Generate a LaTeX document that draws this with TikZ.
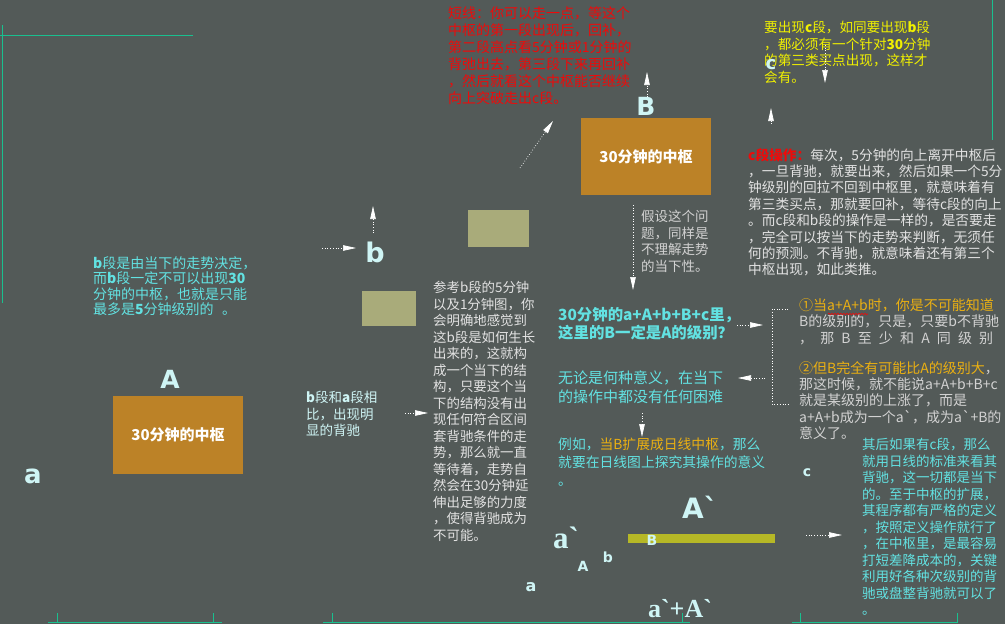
\documentclass[tikz,border=0pt]{standalone}
\usepackage{fontspec}
\setmainfont{Noto Sans CJK SC}[Ligatures=TeXOff]
\newfontfamily\lab{DejaVu Sans}[Ligatures=TeXOff]
\newfontfamily\serifb{Liberation Serif}[Ligatures=TeXOff]
\usetikzlibrary{arrows.meta,decorations.pathmorphing}
\definecolor{bg}{HTML}{535A58}
\definecolor{tealline}{HTML}{19C08F}
\definecolor{redt}{HTML}{EE0A0A}
\definecolor{yel}{HTML}{F0F000}
\definecolor{cyant}{HTML}{62E2E2}
\definecolor{labc}{HTML}{CFF5F5}
\definecolor{lgray}{HTML}{E2E2E2}
\definecolor{mgray}{HTML}{D2D2D2}
\definecolor{gold}{HTML}{EBB012}
\definecolor{orangebox}{HTML}{BC8227}
\definecolor{olivebox}{HTML}{A9AB7A}
\definecolor{olivebar}{HTML}{B6B826}
\newcommand{\myfs}[2]{\fontsize{#1}{#2}\selectfont}
\begin{document}
\begin{tikzpicture}[x=1pt,y=-1pt,
  txt/.style={anchor=north west, inner sep=0pt, align=left},
  lbl/.style={inner sep=0pt, text=labc, anchor=base},
  obox/.style={fill=orangebox, inner sep=0pt, text=white, font=\bfseries\myfs{15}{15}},
  olbox/.style={fill=olivebox, inner sep=0pt},
  arr/.style={draw=white, dotted, line width=0.7pt, -{Triangle[length=13pt,width=5.5pt,fill=white]}},
  tl/.style={draw=tealline, line width=0.9pt}]
\useasboundingbox (0,0) rectangle (1005,624);
\fill[bg] (0,0) rectangle (1005,624);

% teal frame lines
\draw[tl] (0,35) -- (193,35);
\draw[tl] (2.5,25) -- (2.5,303);
\draw[tl] (992,0) -- (992,140);
\draw[tl] (48,622.5) -- (222,622.5);
\draw[tl] (57,613) -- (57,622.5);
\draw[tl] (213,613) -- (213,622.5);
\draw[tl] (323,622.5) -- (690,622.5);
\draw[tl] (332,613) -- (332,622.5);
\draw[tl] (682,613) -- (682,622.5);
\draw[tl] (792,622.5) -- (957,622.5);
\draw[tl] (800,613) -- (800,622.5);
\draw[tl] (957,613) -- (957,622.5);

% boxes
\node[obox, minimum width=130, minimum height=77] (zsB) at (646,156.5) {30分钟的中枢};
\node[obox, minimum width=130, minimum height=78] (zsA) at (178,434.5) {30分钟的中枢};
\node[olbox, minimum width=61, minimum height=37] (ol1) at (498.5,228.5) {};
\node[olbox, minimum width=54, minimum height=35] (ol2) at (389,308.5) {};
\node[fill=olivebar, inner sep=0pt, minimum width=147, minimum height=9] (bar) at (701.5,538.5) {};

% red short-line text
\node[txt, text=redt, font=\myfs{14}{17}] (short) at (448,6) {短线：你可以走一点，等这个\\中枢的第一段出现后，回补，\\第二段高点看5分钟或1分钟的\\背弛出去，第三段下来再回补\\，然后就看这个中枢能否继续\\向上突破走出c段。};

% yellow text
\node[txt, text=yel, font=\myfs{13.6}{16.6}] (yeltext) at (764,21) {要出现\textbf{c}段，如同要出现\textbf{b}段\\，都必须有一个针对\textbf{30}分钟\\的第三类买点出现，这样才\\会有。};

% c segment operation text
\node[txt, text=lgray, font=\myfs{13.7}{16.4}] (cop) at (748,148) {\textcolor{redt}{\textbf{c段操作：}}每次，5分钟的向上离开中枢后\\，一旦背驰，就要出来，然后如果一个5分\\钟级别的回拉不回到中枢里，就意味着有\\第三类买点，那就要回补，等待c段的向上\\。而c段和b段的操作是一样的，是否要走\\，完全可以按当下的走势来判断，无须任\\何的预测。不背驰，就意味着还有第三个\\中枢出现，如此类推。};

% left cyan text
\node[txt, text=cyant, font=\myfs{14}{15.6}] (bseg) at (93,256) {\textbf{b}段是由当下的走势决定，\\而\textbf{b}段一定不可以出现\textbf{30}\\分钟的中枢，也就是只能\\最多是\textbf{5}分钟级别的\hspace{0.6em}。};

% b vs a text
\node[txt, text=labc, font=\myfs{13.5}{16.5}] (bvsa) at (306,391) {\textbf{b}段和\textbf{a}段相\\比，出现明\\显的背驰};

% gray block
\node[txt, text=lgray, font=\myfs{13.4}{16.5}] (ref) at (433,281) {参考b段的5分钟\\以及1分钟图，你\\会明确地感觉到\\这b段是如何生长\\出来的，这就构\\成一个当下的结\\构，只要这个当\\下的结构没有出\\现任何符合区间\\套背驰条件的走\\势，那么就一直\\等待着，走势自\\然会在30分钟延\\伸出足够的力度\\，使得背驰成为\\不可能。};

% assume text
\node[txt, text=mgray, font=\myfs{13.5}{16.5}] (assume) at (641,210) {假设这个问\\题，同样是\\不理解走势\\的当下性。};

% cyan question
\node[txt, text=cyant, font=\bfseries\myfs{15.4}{18}] (q) at (558,307) {30分钟的a+A+b+B+c里，\\这里的B一定是A的级别？};
\node[txt, text=cyant, font=\myfs{15}{19}] (anyway) at (558,370.5) {无论是何种意义，在当下\\的操作中都没有任何困难};
\node[txt, text=cyant, font=\myfs{13.8}{18}] (eg) at (558,438) {例如，\textcolor{gold}{当B扩展成日线中枢}，那么\\就要在日线图上探究其操作的意义\\。};

% right block
\node[txt, text=mgray, font=\myfs{14}{16.8}] (p1) at (799,298) {\textcolor{gold}{①当a+A+b时，你是不可能知道}\\B的级别的，只是，只要b不背驰\\\hbox to 194pt{，\hfill 那\hfill B\hfill 至\hfill 少\hfill 和\hfill A\hfill 同\hfill 级\hfill 别}};
\node[txt, text=mgray, font=\myfs{14}{16.3}] (p2) at (799,361) {\textcolor{gold}{②但B完全有可能比A的级别大}，\\那这时候，就不能说a+A+b+B+c\\就是某级别的上涨了，而是\\a+A+b成为一个a`，成为a`+B的\\意义了。};
\coordinate (wu1) at (828,314);
\coordinate (wu2) at (868,314);
\draw[redt, line width=0.6pt, decorate, decoration={snake, amplitude=0.8pt, segment length=3pt}] (wu1) -- (wu2);

% bottom right cyan
\node[txt, text=cyant, font=\myfs{13.5}{16.5}] (later) at (862,438) {其后如果有c段，那么\\就用日线的标准来看其\\背驰，这一切都是当下\\的。至于中枢的扩展，\\其程序都有严格的定义\\，按照定义操作就行了\\，在中枢里，是最容易\\打短差降成本的，关键\\利用好各种次级别的背\\驰或盘整背驰就可以了\\。};

% labels
\node[lbl, font=\lab\bfseries\myfs{25}{25}] (Bl) at (646,115) {B};
\node[lbl, font=\lab\bfseries\myfs{27}{27}] (bl) at (375,262) {b};
\node[lbl, font=\lab\bfseries\myfs{25}{25}] (Al) at (170,388) {A};
\node[lbl, font=\lab\bfseries\myfs{26}{26}] (al) at (33,483) {a};
\node[lbl, font=\lab\bfseries\myfs{18}{18}] (cl) at (771,69) {c};
\node[lbl, font=\lab\bfseries\myfs{14}{14}] (cl2) at (807,476) {c};
\node[lbl, font=\lab\bfseries\myfs{28}{28}] (Apl) at (700,518) {A`};
\node[lbl, font=\serifb\bfseries\myfs{31}{31}] (apl) at (566,548) {a`};
\node[lbl, font=\lab\bfseries\myfs{14}{14}] (As) at (583,571) {A};
\node[lbl, font=\lab\bfseries\myfs{14}{14}] (bs) at (608,562) {b};
\node[lbl, font=\lab\bfseries\myfs{16}{16}] (as) at (531,591) {a};
\node[lbl, font=\lab\bfseries\myfs{14}{14}] (Bs) at (652,545) {B};
\node[lbl, font=\serifb\bfseries\myfs{26}{26}] (sum) at (680,617) {a`+A`};

% arrow anchor coordinates
\coordinate (a1s) at (647,97);   \coordinate (a1e) at (647,72);
\coordinate (a2s) at (520,168);  \coordinate (a2e) at (553,121);
\coordinate (a3s) at (825,45);   \coordinate (a3e) at (825,83);
\coordinate (a4s) at (771,124);  \coordinate (a4e) at (771,108);
\coordinate (a5s) at (322,248);  \coordinate (a5e) at (356,248);
\coordinate (a6s) at (373,233);  \coordinate (a6e) at (373,206);
\coordinate (a7s) at (405,413);  \coordinate (a7e) at (428,413);
\coordinate (a8s) at (633,205);  \coordinate (a8e) at (633,290);
\coordinate (a9s) at (737,325);  \coordinate (a9e) at (763,325);
\coordinate (a10s) at (765,378); \coordinate (a10e) at (738,378);
\coordinate (a11s) at (642,413); \coordinate (a11e) at (642,437);
\coordinate (a12s) at (806,535); \coordinate (a12e) at (842,535);
\foreach \i in {1,...,12} {\draw[arr] (a\i s) -- (a\i e);}

% bracket
\coordinate (br1) at (788,309);
\coordinate (br2) at (772,309);
\coordinate (br3) at (772,404);
\coordinate (br4) at (788,404);
\draw[white, dotted, line width=0.7pt] (br1) -- (br2) -- (br3) -- (br4);
\end{tikzpicture}
\end{document}
